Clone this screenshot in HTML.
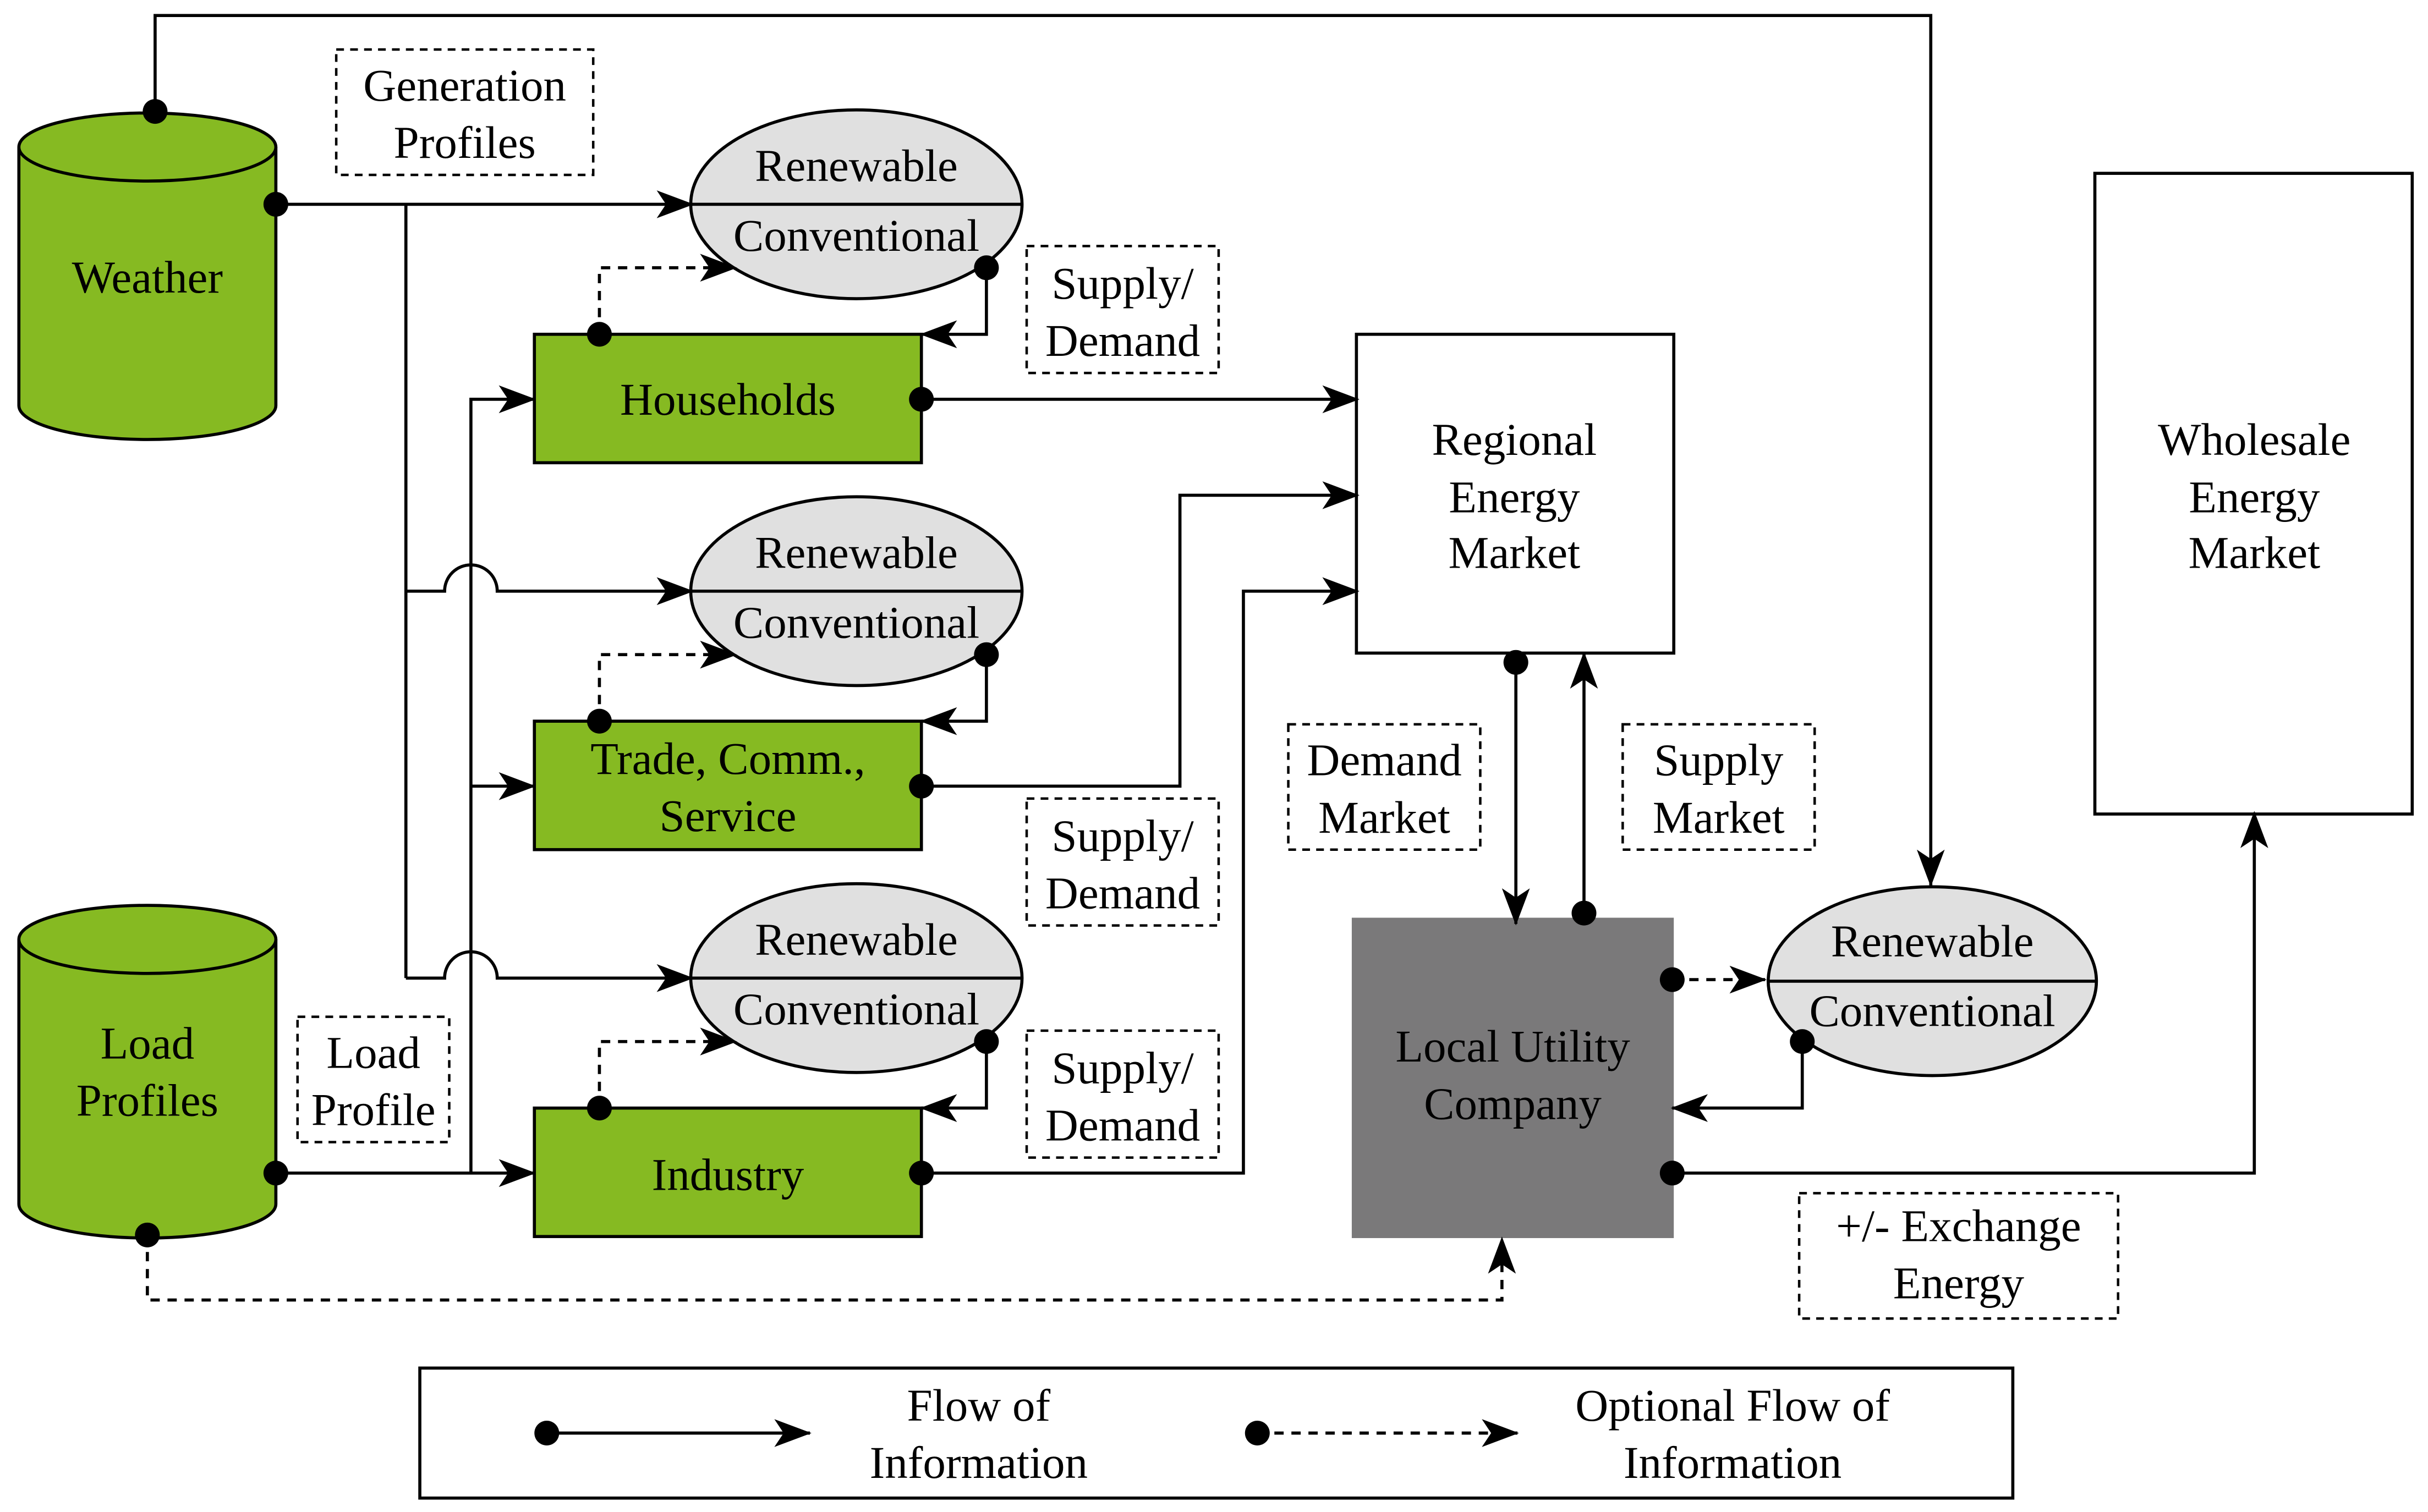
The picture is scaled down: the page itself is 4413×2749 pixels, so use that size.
<!DOCTYPE html>
<html><head><meta charset="utf-8"><style>html,body{margin:0;padding:0;background:#fff}svg{display:block}</style></head><body>
<svg width="4413" height="2749" viewBox="0 0 1568 977" xmlns="http://www.w3.org/2000/svg" font-family="'Liberation Serif', serif" font-size="29.5">
<defs>
<marker id="a" viewBox="0 0 24 18" refX="23" refY="9" markerWidth="24" markerHeight="18" markerUnits="userSpaceOnUse" orient="auto"><path d="M0,0 L24,9 L0,18 L6,9 Z" fill="#000"/></marker>
</defs>
<g stroke="#000" stroke-width="2" fill="none">
<path d="M12,95 L12,262 A83,22 0 0 0 178,262 L178,95" fill="#86ba22"/>
<ellipse cx="95" cy="95" rx="83" ry="22" fill="#86ba22"/>
<path d="M12,607 L12,778 A83,22 0 0 0 178,778 L178,607" fill="#86ba22"/>
<ellipse cx="95" cy="607" rx="83" ry="22" fill="#86ba22"/>
<rect x="345" y="216" width="250" height="83" fill="#86ba22"/>
<rect x="345" y="466" width="250" height="83" fill="#86ba22"/>
<rect x="345" y="716" width="250" height="83" fill="#86ba22"/>
<rect x="876" y="216" width="205" height="206" fill="#fff"/>
<rect x="1353" y="112" width="205" height="414" fill="#fff"/>
<rect x="873" y="593" width="208" height="207" fill="#7a797a" stroke="none"/>
<rect x="271" y="884" width="1029" height="84"/>
<ellipse cx="553" cy="132" rx="107" ry="61" fill="#e0e0e0"/><line x1="446" y1="132" x2="660" y2="132"/>
<ellipse cx="553" cy="382" rx="107" ry="61" fill="#e0e0e0"/><line x1="446" y1="382" x2="660" y2="382"/>
<ellipse cx="553" cy="632" rx="107" ry="61" fill="#e0e0e0"/><line x1="446" y1="632" x2="660" y2="632"/>
<ellipse cx="1248" cy="634" rx="106" ry="61" fill="#e0e0e0"/><line x1="1142" y1="634" x2="1354" y2="634"/>
<g stroke-dasharray="5,4" stroke-width="1.6">
<rect x="217" y="32" width="166" height="81"/>
<rect x="192" y="657" width="98" height="81"/>
<rect x="663" y="159" width="124" height="82"/>
<rect x="663" y="516" width="124" height="82"/>
<rect x="663" y="666" width="124" height="82"/>
<rect x="832" y="468" width="124" height="81"/>
<rect x="1048" y="468" width="124" height="81"/>
<rect x="1162" y="771" width="206" height="81"/>
</g>
<path d="M100,72 L100,10 L1247,10 L1247,572" marker-end="url(#a)"/>
<path d="M178,132 L447,132" marker-end="url(#a)"/>
<path d="M262,132 L262,632"/>
<path d="M262,382 L287,382 A17,17 0 0 1 321,382 L447,382" marker-end="url(#a)"/>
<path d="M262,632 L287,632 A17,17 0 0 1 321,632 L447,632" marker-end="url(#a)"/>
<path d="M178,758 L345,758" marker-end="url(#a)"/>
<path d="M304,758 L304,258 L345,258" marker-end="url(#a)"/>
<path d="M304,508 L345,508" marker-end="url(#a)"/>
<path d="M637,173 L637,216 L595,216" marker-end="url(#a)"/>
<path d="M637,423 L637,466 L595,466" marker-end="url(#a)"/>
<path d="M637,673 L637,716 L595,716" marker-end="url(#a)"/>
<path d="M595,258 L877,258" marker-end="url(#a)"/>
<path d="M595,508 L762,508 L762,320 L877,320" marker-end="url(#a)"/>
<path d="M595,758 L803,758 L803,382 L877,382" marker-end="url(#a)"/>
<path d="M979,428 L979,597" marker-end="url(#a)"/>
<path d="M1023,590 L1023,422" marker-end="url(#a)"/>
<path d="M1164,673 L1164,716 L1080,716" marker-end="url(#a)"/>
<path d="M1080,758 L1456,758 L1456,525" marker-end="url(#a)"/>
<path d="M353,926 L523,926" marker-end="url(#a)"/>
<g stroke-dasharray="6,5">
<path d="M387,216 L387,173 L475,173" marker-end="url(#a)"/>
<path d="M387,466 L387,423 L475,423" marker-end="url(#a)"/>
<path d="M387,716 L387,673 L475,673" marker-end="url(#a)"/>
<path d="M95,798 L95,840 L970,840 L970,800" marker-end="url(#a)"/>
<path d="M1080,633 L1140,633" marker-end="url(#a)"/>
<path d="M812,926 L980,926" marker-end="url(#a)"/>
</g>
</g>
<g fill="#000">
<circle cx="100" cy="72" r="8"/><circle cx="178" cy="132" r="8"/><circle cx="178" cy="758" r="8"/><circle cx="95" cy="798" r="8"/>
<circle cx="387" cy="216" r="8"/><circle cx="387" cy="466" r="8"/><circle cx="387" cy="716" r="8"/>
<circle cx="637" cy="173" r="8"/><circle cx="637" cy="423" r="8"/><circle cx="637" cy="673" r="8"/>
<circle cx="595" cy="258" r="8"/><circle cx="595" cy="508" r="8"/><circle cx="595" cy="758" r="8"/>
<circle cx="979" cy="428" r="8"/><circle cx="1023" cy="590" r="8"/>
<circle cx="1080" cy="633" r="8"/><circle cx="1080" cy="758" r="8"/><circle cx="1164" cy="673" r="8"/>
<circle cx="353" cy="926" r="8"/><circle cx="812" cy="926" r="8"/>
</g>
<g fill="#000" text-anchor="middle">
<text x="95" y="189">Weather</text>
<text x="95" y="684">Load</text><text x="95" y="721">Profiles</text>
<text x="300" y="65">Generation</text><text x="300" y="102">Profiles</text>
<text x="241" y="690">Load</text><text x="241" y="727">Profile</text>
<text x="470" y="268">Households</text>
<text x="470" y="500">Trade, Comm.,</text><text x="470" y="537">Service</text>
<text x="470" y="769">Industry</text>
<g><text x="553" y="117">Renewable</text><text x="553" y="162">Conventional</text></g>
<g><text x="553" y="367">Renewable</text><text x="553" y="412">Conventional</text></g>
<g><text x="553" y="617">Renewable</text><text x="553" y="662">Conventional</text></g>
<g><text x="1248" y="618">Renewable</text><text x="1248" y="663">Conventional</text></g>
<text x="725" y="193">Supply/</text><text x="725" y="230">Demand</text>
<text x="725" y="550">Supply/</text><text x="725" y="587">Demand</text>
<text x="725" y="700">Supply/</text><text x="725" y="737">Demand</text>
<text x="978" y="294">Regional</text><text x="978" y="331">Energy</text><text x="978" y="367">Market</text>
<text x="1456" y="294">Wholesale</text><text x="1456" y="331">Energy</text><text x="1456" y="367">Market</text>
<text x="894" y="501">Demand</text><text x="894" y="538">Market</text>
<text x="1110" y="501">Supply</text><text x="1110" y="538">Market</text>
<text x="977" y="686">Local Utility</text><text x="977" y="723">Company</text>
<text x="1265" y="802">+/- Exchange</text><text x="1265" y="839">Energy</text>
<text x="632" y="918">Flow of</text><text x="632" y="955">Information</text>
<text x="1119" y="918">Optional Flow of</text><text x="1119" y="955">Information</text>
</g>
</svg>
</body></html>
